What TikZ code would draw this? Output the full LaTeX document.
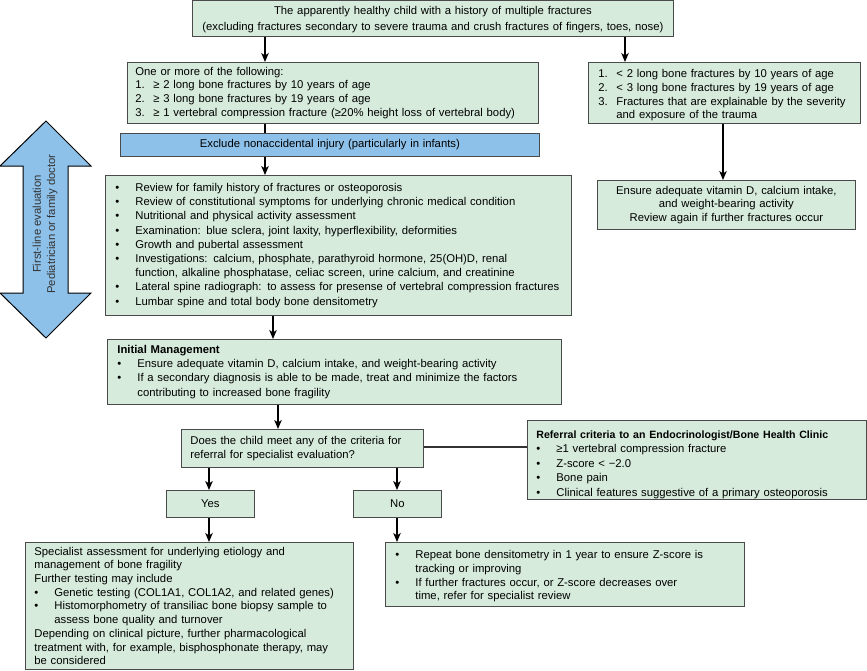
\documentclass[tikz,border=0pt]{standalone}
\usepackage{fontspec}
\setmainfont{Liberation Sans}
\usetikzlibrary{arrows.meta}
\definecolor{boxfill}{HTML}{D6EBDC}
\definecolor{boxline}{HTML}{4A4A4A}
\definecolor{bluefill}{HTML}{8DC1EA}
\definecolor{arrowtext}{HTML}{333333}
\newcommand{\fsz}{\fontsize{11.3}{13.7}\selectfont}
\newcommand{\fszb}{\fontsize{11.3}{14.2}\selectfont}
\newcommand{\bl}[1]{\mbox{\makebox[20pt][l]{\textbullet}#1}}
\newcommand{\cl}[1]{\mbox{\hspace*{20pt}#1}}
\newcommand{\nm}[2]{\mbox{\makebox[18pt][l]{#1}#2}}
\newcommand{\tl}[1]{\mbox{#1}}
\tikzset{
  box/.style={draw=boxline, fill=boxfill, line width=0.8pt, anchor=north west,
    inner ysep=0pt, align=left, font=\fsz},
  cbox/.style={box, align=center},
  arr/.style={draw=black, line width=1.1pt, -{Stealth[length=9pt,width=7.5pt,inset=2.5pt]}},
  con/.style={draw=black, line width=1.1pt},
  thickcon/.style={draw=black!80, line width=2pt},
}
\begin{document}
\begin{tikzpicture}[x=1pt,y=-1pt]
\useasboundingbox (0,0) rectangle (867,670);

% left double arrow
\draw[fill=bluefill, draw=black, line width=1pt]
  (46,121) -- (91,166) -- (68,166) -- (68,293) -- (91,293) -- (46,338)
  -- (0,293) -- (23,293) -- (23,166) -- (0,166) -- cycle;
\node[rotate=90, align=center, text=arrowtext, font=\fontsize{11.3}{14.2}\selectfont] (evaltext) at (45,224)
  {First-line evaluation\\Pediatrician or family doctor};

% boxes
\node[cbox, minimum width=481pt, minimum height=36pt, text width=471pt, inner xsep=5pt,
  font=\fontsize{11.3}{15.5}\selectfont] (top) at (192,0)
  {\tl{\rule{0pt}{11pt}The apparently healthy child with a history of multiple fractures}\\
   \tl{(excluding fractures secondary to severe trauma and crush fractures of fingers, toes, nose)}};

\node[box, minimum width=411pt, minimum height=61pt, text width=395pt, inner xsep=8pt] (crit) at (127,62)
  {\tl{One or more of the following:}\\
   \nm{1.}{≥ 2 long bone fractures by 10 years of age}\\
   \nm{2.}{≥ 3 long bone fractures by 19 years of age}\\
   \nm{3.}{≥ 1 vertebral compression fracture (≥20\% height loss of vertebral body)}};

\node[box, minimum width=272pt, minimum height=61pt, text width=258pt, inner xsep=7pt] (low) at (588,62)
  {\hspace*{3pt}\nm{1.}{\rule{0pt}{13pt}< 2 long bone fractures by 10 years of age}\\
   \hspace*{3pt}\nm{2.}{< 3 long bone fractures by 19 years of age}\\
   \hspace*{3pt}\nm{3.}{Fractures that are explainable by the severity}\\
   \hspace*{3pt}\cl{\hspace*{-2pt}and exposure of the trauma}};

\node[cbox, fill=bluefill, minimum width=419pt, minimum height=23pt, text width=399pt, inner xsep=10pt] (nai) at (120,133)
  {Exclude nonaccidental injury (particularly in infants)};

\node[cbox, minimum width=258pt, minimum height=49pt, text width=248pt, inner xsep=5pt] (ensure) at (597,180)
  {\tl{Ensure adequate vitamin D, calcium intake,}\\
   \tl{and weight-bearing activity}\\
   \tl{Review again if further fractures occur}};

\node[box, minimum width=466pt, minimum height=140pt, text width=446pt, inner xsep=10pt, font=\fszb] (review) at (105,175)
  {\bl{Review for family history of fractures or osteoporosis}\\
   \bl{Review of constitutional symptoms for underlying chronic medical condition}\\
   \bl{Nutritional and physical activity assessment}\\
   \bl{Examination: blue sclera, joint laxity, hyperflexibility, deformities}\\
   \bl{Growth and pubertal assessment}\\
   \bl{Investigations: calcium, phosphate, parathyroid hormone, 25(OH)D, renal}\\
   \cl{function, alkaline phosphatase, celiac screen, urine calcium, and creatinine}\\
   \bl{Lateral spine radiograph: to assess for presense of vertebral compression fractures}\\
   \bl{Lumbar spine and total body bone densitometry}};

\node[box, minimum width=454pt, minimum height=65pt, text width=434pt, inner xsep=10pt, font=\fszb] (init) at (107,339)
  {\tl{\bfseries Initial Management}\\
   \bl{Ensure adequate vitamin D, calcium intake, and weight-bearing activity}\\
   \bl{If a secondary diagnosis is able to be made, treat and minimize the factors}\\
   \cl{contributing to increased bone fragility}};

\node[box, minimum width=242pt, minimum height=38pt, text width=230pt, inner xsep=6pt] (quest) at (181,429)
  {\hspace*{3pt}\tl{Does the child meet any of the criteria for}\\
   \hspace*{3pt}\tl{referral for specialist evaluation?}};

\node[box, minimum width=339pt, minimum height=79pt, text width=331pt, inner xsep=4pt, font=\fontsize{11.3}{14.6}\selectfont] (refer) at (527,420)
  {\hspace*{5pt}\tl{\rule{0pt}{17pt}\fontsize{10.6}{14.6}\selectfont\bfseries Referral criteria to an Endocrinologist/Bone Health Clinic}\\
   \hspace*{5pt}\bl{≥1 vertebral compression fracture}\\
   \hspace*{5pt}\bl{Z-score < −2.0}\\
   \hspace*{5pt}\bl{Bone pain}\\
   \hspace*{5pt}\bl{Clinical features suggestive of a primary osteoporosis}};

\node[cbox, minimum width=88pt, minimum height=27pt, text width=80pt, inner xsep=4pt] (yes) at (166,490) {Yes};
\node[cbox, minimum width=88pt, minimum height=27pt, text width=80pt, inner xsep=4pt] (no) at (353,490) {No};

\node[box, minimum width=328pt, minimum height=127pt, text width=316pt, inner xsep=6pt] (spec) at (25,542)
  {\hspace*{3pt}\tl{Specialist assessment for underlying etiology and}\\
   \hspace*{3pt}\tl{management of bone fragility}\\
   \hspace*{3pt}\tl{Further testing may include}\\
   \hspace*{3pt}\bl{Genetic testing (COL1A1, COL1A2, and related genes)}\\
   \hspace*{3pt}\bl{Histomorphometry of transiliac bone biopsy sample to}\\
   \hspace*{3pt}\cl{assess bone quality and turnover}\\
   \hspace*{3pt}\tl{Depending on clinical picture, further pharmacological}\\
   \hspace*{3pt}\tl{treatment with, for example, bisphosphonate therapy, may}\\
   \hspace*{3pt}\tl{be considered}};

\node[box, minimum width=359pt, minimum height=64pt, text width=339pt, inner xsep=10pt] (repeat) at (385,542)
  {\bl{\rule{0pt}{12pt}Repeat bone densitometry in 1 year to ensure Z-score is}\\
   \cl{tracking or improving}\\
   \bl{If further fractures occur, or Z-score decreases over}\\
   \cl{time, refer for specialist review}};

% connector x-positions
\coordinate (xa) at (265,0);
\coordinate (xb) at (625,0);
\coordinate (xc) at (723,0);
\coordinate (xd) at (273,0);
\coordinate (xe) at (278,0);
\coordinate (xf) at (209,0);
\coordinate (xg) at (397,0);
\coordinate (yq) at (0,447);

\draw[arr] (top.south -| xa) -- (crit.north -| xa);
\draw[arr] (top.south -| xb) -- (low.north -| xb);
\draw[con] (crit.south -| xa) -- (nai.north -| xa);
\draw[arr] (nai.south -| xa) -- (review.north -| xa);
\draw[arr] (low.south -| xc) -- (ensure.north -| xc);
\draw[arr] (review.south -| xd) -- (init.north -| xd);
\draw[arr] (init.south -| xe) -- (quest.north -| xe);
\draw[thickcon] (quest.east |- yq) -- (refer.west |- yq);
\draw[arr] (quest.south -| xf) -- (yes.north -| xf);
\draw[arr] (quest.south -| xg) -- (no.north -| xg);
\draw[arr] (yes.south -| xf) -- (spec.north -| xf);
\draw[arr] (no.south -| xg) -- (repeat.north -| xg);
\end{tikzpicture}
\end{document}
